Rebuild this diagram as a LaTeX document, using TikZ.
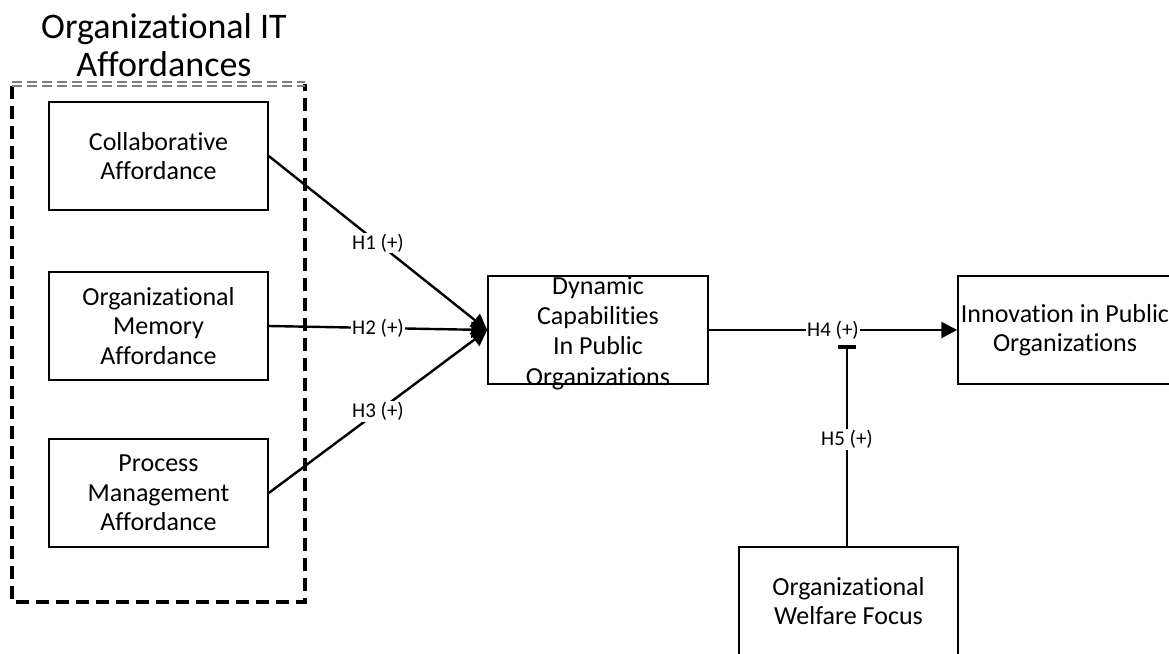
\documentclass[tikz,border=0pt]{standalone}
\usepackage{fontspec}
\setmainfont{Carlito}[Ligatures={NoCommon,NoRare,NoContextual}]
\usetikzlibrary{arrows.meta}
\begin{document}
\begin{tikzpicture}[x=1pt,y=-1pt,
  box/.style={draw=black, line width=1.5pt, minimum width=219pt, minimum height=108pt, inner sep=0pt,
    font=\fontsize{26}{29.5}\selectfont, align=center},
  boxtext/.style={font=\fontsize{26}{30.3}\selectfont, align=center, inner sep=0pt},
  lbl/.style={font=\fontsize{21}{24}\selectfont, fill=white, inner sep=1pt},
  conn/.style={line width=2.4pt, -{Triangle[length=16pt,width=16pt]}},
  tee/.style={line width=2.4pt, -{Rectangle[length=4pt,width=18pt]}},
  frame/.style={line width=3.1pt, dash pattern=on 13pt off 7pt},
  frametop/.style={draw=gray, line width=1.2pt, dash pattern=on 10pt off 5pt},
  title/.style={font=\fontsize{36}{38}\selectfont, align=center, inner sep=0pt}
  ]
\useasboundingbox (0,0) rectangle (1169,653);
\clip (0,0) rectangle (1169,653);

% group frame
\draw[frame] (12,86) -- (12,602) -- (305,602) -- (305,84);
\draw[frametop] (12,82) -- (305,82);
\draw[frametop] (12,86) -- (305,86);
\node[title] (ttl) at (164,45) {Organizational IT\\Affordances};

% boxes
\node[box] (collab) at (158.5,156) {Collaborative\\Affordance};
\node[box] (memory) at (158.5,326) {Organizational\\Memory\\Affordance};
\node[box] (process) at (158.5,493) {Process\\Management\\Affordance};
\node[box, minimum width=220pt] (dyn) at (598,330) {};
\node[boxtext] (dynt) at (598,333) {Dynamic\\Capabilities\\In Public\\Organizations};
\node[box, minimum width=214pt] (innov) at (1065,330) {Innovation in Public\\Organizations};
\node[box] (welfare) at (848.5,601) {Organizational\\Welfare Focus};
\coordinate (h5end) at (847,345);

% connectors
\draw[conn] (collab.east) -- node[lbl]{H1 (+)} (dyn.west);
\draw[conn] (memory.east) -- node[lbl]{H2 (+)} (dyn.west);
\draw[conn] (process.east) -- node[lbl]{H3 (+)} (dyn.west);
\draw[conn] (dyn.east) -- node[lbl]{H4 (+)} (innov.west);
\draw[tee] (welfare.north -| h5end) -- node[lbl, pos=0.53]{H5 (+)} (h5end);
\end{tikzpicture}
\end{document}
